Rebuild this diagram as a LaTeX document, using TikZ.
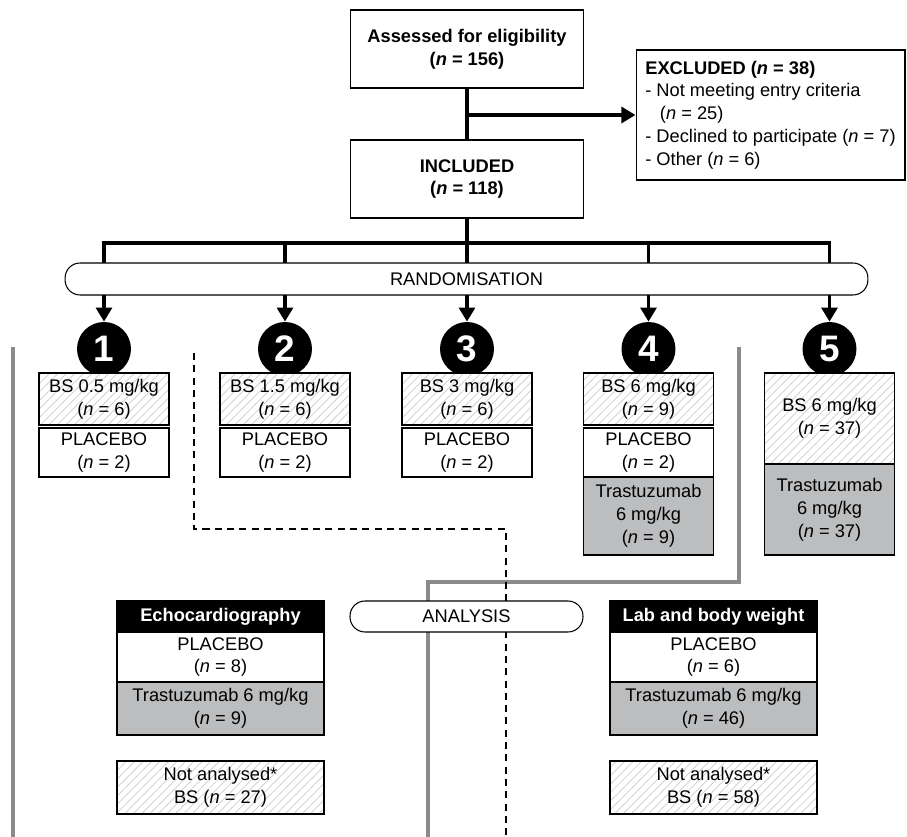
\documentclass[tikz,border=0pt]{standalone}
\usepackage{fontspec}
\setmainfont{Liberation Sans}
\usetikzlibrary{shapes.geometric, arrows.meta, patterns.meta, backgrounds}
\definecolor{trastgray}{HTML}{BCBDBF}
\definecolor{pathgray}{HTML}{8A8B8D}
\tikzstyle{plainbox} = [
    rectangle,
    draw=black,
    line width=0.6pt,
    fill=white,
    align=center,
    inner sep=0pt
]
\tikzstyle{boldbox} = [
    plainbox,
    font=\fontsize{10.4}{13}\selectfont\bfseries
]
\tikzstyle{bsbox} = [
    plainbox,
    preaction={fill=white},
    pattern={Lines[angle=45,distance=3.4pt,line width=0.4pt]},
    pattern color=gray!40
]
\tikzstyle{trastbox} = [
    plainbox,
    fill=trastgray
]
\tikzstyle{headbox} = [
    plainbox,
    fill=black,
    text=white,
    font=\fontsize{10.4}{13}\selectfont\bfseries
]
\tikzstyle{phase} = [
    rectangle,
    rounded corners=0.3cm,
    draw=black,
    line width=0.6pt,
    fill=white
]
\tikzstyle{armnum} = [
    circle,
    fill=black,
    text=white,
    minimum size=1.08cm,
    inner sep=0pt,
    font=\fontsize{21}{24}\selectfont\bfseries
]
\tikzstyle{trunk} = [line width=2.2pt, line cap=rect]
\tikzstyle{arrow} = [line width=2.2pt, -{Triangle[length=8pt,width=9pt]}]
\tikzstyle{greypath} = [pathgray, line width=2.6pt, line join=miter]
\tikzstyle{dashpath} = [line width=1.2pt, dash pattern=on 4pt off 3pt]

\begin{document}
\begin{tikzpicture}[x=0.02cm, y=-0.02cm, font=\fontsize{10.4}{13}\selectfont]

\useasboundingbox (0,0) rectangle (907,837);

\node (assess) [boldbox, minimum width=4.66cm, minimum height=1.56cm] at (467,49)
{Assessed for eligibility\\(\textit{n} = 156)};

\node (excl) [plainbox, align=left, minimum width=5.38cm, minimum height=2.6cm] at (770.5,115)
{\textbf{EXCLUDED (\textit{n} = 38)}\\- Not meeting entry criteria\\\hspace{0.8em}(\textit{n} = 25)\\- Declined to participate (\textit{n} = 7)\\- Other (\textit{n} = 6)};

\node (incl) [boldbox, minimum width=4.66cm, minimum height=1.56cm] at (467,179)
{INCLUDED\\(\textit{n} = 118)};

\node (rand) [phase, minimum width=16.06cm, minimum height=0.64cm] at (466.5,279) {RANDOMISATION};

\coordinate (fork) at (467,115);
\coordinate (split) at (467,243);

\foreach \i/\x in {1/104,2/285,3/467,4/648.5,5/829.5}
    \node (arm\i) [armnum] at (\x,349) {\i};

\foreach \i/\x/\mg/\n in {1/104/0.5/6, 2/285/1.5/6, 3/467/3/6, 4/648.5/6/9} {
    \node (dose\i) [bsbox, minimum width=2.6cm, minimum height=1.04cm] at (\x,399)
    {BS \mg{} mg/kg\\(\textit{n} = \n)};
    \node (plac\i) [plainbox, minimum width=2.6cm, minimum height=0.98cm] at (\x,452.5)
    {PLACEBO\\(\textit{n} = 2)};
}

\node (trast4) [trastbox, minimum width=2.6cm, minimum height=1.56cm] at (648.5,516)
{Trastuzumab\\6 mg/kg\\(\textit{n} = 9)};

\node (dose5) [bsbox, minimum width=2.6cm, minimum height=1.82cm] at (829.5,418.5)
{BS 6 mg/kg\\(\textit{n} = 37)};

\node (trast5) [trastbox, minimum width=2.6cm, minimum height=1.82cm] at (829.5,509.5)
{Trastuzumab\\6 mg/kg\\(\textit{n} = 37)};

\node (analysis) [phase, minimum width=4.66cm, minimum height=0.62cm] at (466.5,616.5) {ANALYSIS};

\node (echo) [headbox, minimum width=4.14cm, minimum height=0.62cm] at (220.5,616.5) {Echocardiography};
\node (echoplac) [plainbox, minimum width=4.14cm, minimum height=1.0cm] at (220.5,657)
{PLACEBO\\(\textit{n} = 8)};
\node (echotrast) [trastbox, minimum width=4.14cm, minimum height=1.06cm] at (220.5,708.5)
{Trastuzumab 6 mg/kg\\(\textit{n} = 9)};
\node (echoskip) [bsbox, minimum width=4.14cm, minimum height=1.06cm] at (220.5,787.5)
{Not analysed*\\BS (\textit{n} = 27)};

\node (lab) [headbox, minimum width=4.14cm, minimum height=0.62cm] at (713.5,616.5) {Lab and body weight};
\node (labplac) [plainbox, minimum width=4.14cm, minimum height=1.0cm] at (713.5,657)
{PLACEBO\\(\textit{n} = 6)};
\node (labtrast) [trastbox, minimum width=4.14cm, minimum height=1.06cm] at (713.5,708.5)
{Trastuzumab 6 mg/kg\\(\textit{n} = 46)};
\node (labskip) [bsbox, minimum width=4.14cm, minimum height=1.06cm] at (713.5,787.5)
{Not analysed*\\BS (\textit{n} = 58)};

\coordinate (lefttop) at (13,347);
\coordinate (leftend) at (13,837);
\coordinate (righttop) at (739,347);
\coordinate (rightbend) at (428,582);
\coordinate (rightend) at (428,837);
\coordinate (dashtop) at (194,353);
\coordinate (dashbend) at (506,529);
\coordinate (dashend) at (506,837);

\begin{scope}[on background layer]
\draw [trunk] (assess) -- (incl);
\draw [arrow] (fork) -- (excl);
\draw [trunk] (incl) -- (split);
\draw [trunk] (arm1 |- split) -- (arm5 |- split);
\foreach \i in {1,...,5}
    \draw [arrow] (arm\i |- split) -- (arm\i);
\draw [greypath] (lefttop) -- (leftend);
\draw [greypath] (righttop) |- (rightbend) -- (rightend);
\draw [dashpath] (dashtop) |- (dashbend) -- (dashend);
\end{scope}

\end{tikzpicture}
\end{document}
